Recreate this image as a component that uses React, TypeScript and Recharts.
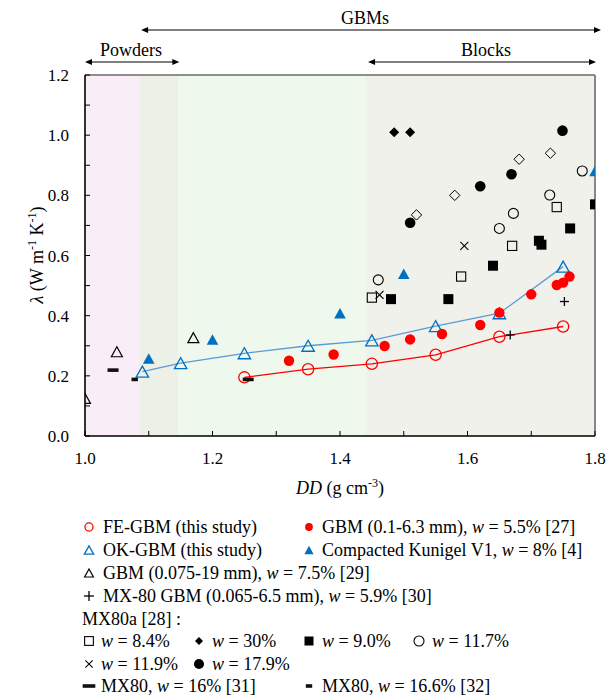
import React from 'react';
import { ScatterChart, Scatter, XAxis, YAxis, ReferenceArea, ReferenceLine } from 'recharts';

// ---------- data ----------
const xTicks = [1.0, 1.1, 1.2, 1.3, 1.4, 1.5, 1.6, 1.7, 1.8];
const yTicks = [0, 0.1, 0.2, 0.3, 0.4, 0.5, 0.6, 0.7, 0.8, 0.9, 1.0, 1.1, 1.2];

const feGbm = [
  { x: 1.25, y: 0.195 }, { x: 1.35, y: 0.222 }, { x: 1.45, y: 0.24 },
  { x: 1.55, y: 0.27 }, { x: 1.65, y: 0.33 }, { x: 1.75, y: 0.364 },
];
const okGbm = [
  { x: 1.09, y: 0.214 }, { x: 1.15, y: 0.242 }, { x: 1.25, y: 0.275 }, { x: 1.35, y: 0.3 },
  { x: 1.45, y: 0.318 }, { x: 1.55, y: 0.365 }, { x: 1.65, y: 0.408 }, { x: 1.75, y: 0.563 },
];
const gbm27 = [
  { x: 1.32, y: 0.25 }, { x: 1.39, y: 0.271 }, { x: 1.47, y: 0.299 }, { x: 1.51, y: 0.321 },
  { x: 1.56, y: 0.339 }, { x: 1.62, y: 0.369 }, { x: 1.65, y: 0.41 }, { x: 1.70, y: 0.471 },
  { x: 1.74, y: 0.502 }, { x: 1.75, y: 0.51 }, { x: 1.76, y: 0.53 },
];
const kunigel = [
  { x: 1.10, y: 0.258 }, { x: 1.20, y: 0.321 }, { x: 1.40, y: 0.408 }, { x: 1.50, y: 0.539 }, { x: 1.80, y: 0.881 },
];
const gbm29 = [{ x: 1.0, y: 0.125 }, { x: 1.05, y: 0.28 }, { x: 1.17, y: 0.327 }];
const mx80Gbm30 = [{ x: 1.667, y: 0.336 }, { x: 1.752, y: 0.447 }];
const mx80aW84 = [{ x: 1.45, y: 0.46 }, { x: 1.59, y: 0.53 }, { x: 1.67, y: 0.632 }, { x: 1.74, y: 0.761 }];
const mx80aW30 = [{ x: 1.485, y: 1.01 }, { x: 1.51, y: 1.01 }];
const mx80aW30open = [{ x: 1.52, y: 0.735 }, { x: 1.58, y: 0.8 }, { x: 1.681, y: 0.92 }, { x: 1.73, y: 0.94 }];
const mx80aW90 = [
  { x: 1.48, y: 0.455 }, { x: 1.57, y: 0.455 }, { x: 1.64, y: 0.566 }, { x: 1.712, y: 0.649 },
  { x: 1.716, y: 0.636 }, { x: 1.761, y: 0.69 }, { x: 1.80, y: 0.77 },
];
const mx80aW117 = [{ x: 1.46, y: 0.519 }, { x: 1.65, y: 0.69 }, { x: 1.672, y: 0.74 }, { x: 1.729, y: 0.801 }, { x: 1.78, y: 0.881 }];
const mx80aW119 = [{ x: 1.462, y: 0.469 }, { x: 1.595, y: 0.632 }];
const mx80aW179 = [{ x: 1.51, y: 0.709 }, { x: 1.62, y: 0.83 }, { x: 1.669, y: 0.87 }, { x: 1.749, y: 1.015 }];
const mx80W16 = [{ x: 1.044, y: 0.219 }, { x: 1.256, y: 0.188 }];
const mx80W166 = [{ x: 1.078, y: 0.188 }];

const bands = [
  { x1: 1.0, x2: 1.085, fill: '#f9edf8' },
  { x1: 1.085, x2: 1.146, fill: '#edf0e6' },
  { x1: 1.146, x2: 1.44, fill: '#eef8ec' },
  { x1: 1.44, x2: 1.8, fill: '#f0f1eb' },
];

// ---------- layout ----------
const W = 616, H = 697;
const PL = 85, PR = 595, PT = 75, PB = 436;
const YAW = 40, XAH = 30;
const FONT = '"Liberation Serif", "Times New Roman", serif';
const RED = '#ff0000';
const BLUE = '#0070c0';
const LBLUE = '#5b9bd5';
const xPx = (v: number) => PL + ((v - 1.0) / 0.8) * (PR - PL);

type MK = string;
function Marker({ kind, cx, cy, s = 1 }: { kind: MK; cx: number; cy: number; s?: number }) {
  if (cx == null || cy == null) return null;
  switch (kind) {
    case 'openCircleRed':
      return <circle cx={cx} cy={cy} r={5.6 * s} fill="none" stroke={RED} strokeWidth={1.3} />;
    case 'filledCircleRed':
      return <circle cx={cx} cy={cy} r={5.2 * s} fill={RED} />;
    case 'openTriBlue': {
      const w = 6.2 * s, h = 11 * s;
      return <polygon points={`${cx},${cy - h / 2} ${cx - w},${cy + h / 2} ${cx + w},${cy + h / 2}`} fill="none" stroke={BLUE} strokeWidth={1.3} />;
    }
    case 'filledTriBlue': {
      const w = 5.8 * s, h = 10.5 * s;
      return <polygon points={`${cx},${cy - h / 2} ${cx - w},${cy + h / 2} ${cx + w},${cy + h / 2}`} fill={BLUE} />;
    }
    case 'openTriBlack': {
      const w = 5.5 * s, h = 10 * s;
      return <polygon points={`${cx},${cy - h / 2} ${cx - w},${cy + h / 2} ${cx + w},${cy + h / 2}`} fill="none" stroke="#000" strokeWidth={1.2} />;
    }
    case 'plus': {
      const a = 4.5 * s;
      return <g stroke="#000" strokeWidth={1.3}><line x1={cx - a} x2={cx + a} y1={cy} y2={cy} /><line x1={cx} x2={cx} y1={cy - a} y2={cy + a} /></g>;
    }
    case 'openSquare': {
      const a = 4.6 * s;
      return <rect x={cx - a} y={cy - a} width={2 * a} height={2 * a} fill="none" stroke="#000" strokeWidth={1.1} />;
    }
    case 'filledSquare': {
      const a = 5 * s;
      return <rect x={cx - a} y={cy - a} width={2 * a} height={2 * a} fill="#000" />;
    }
    case 'openCircleBlack':
      return <circle cx={cx} cy={cy} r={5 * s} fill="none" stroke="#000" strokeWidth={1.1} />;
    case 'filledCircleBlack':
      return <circle cx={cx} cy={cy} r={5.3 * s} fill="#000" />;
    case 'xMark': {
      const a = 4 * s;
      return <g stroke="#000" strokeWidth={1.1}><line x1={cx - a} x2={cx + a} y1={cy - a} y2={cy + a} /><line x1={cx - a} x2={cx + a} y1={cy + a} y2={cy - a} /></g>;
    }
    case 'filledDiamond': {
      const a = 5 * s;
      return <polygon points={`${cx},${cy - a} ${cx + a},${cy} ${cx},${cy + a} ${cx - a},${cy}`} fill="#000" />;
    }
    case 'openDiamond': {
      const a = 5.2 * s;
      return <polygon points={`${cx},${cy - a} ${cx + a},${cy} ${cx},${cy + a} ${cx - a},${cy}`} fill="none" stroke="#000" strokeWidth={1} />;
    }
    case 'longDash': {
      const a = 5.5 * s;
      return <rect x={cx - a} y={cy - 1.8} width={2 * a} height={3.6} fill="#111" />;
    }
    case 'shortDash': {
      const a = 3.2 * s;
      return <rect x={cx - a} y={cy - 1.8} width={2 * a} height={3.6} fill="#111" />;
    }
    default:
      return null;
  }
}

const shapeOf = (kind: MK) => (p: any) => <Marker kind={kind} cx={p.cx} cy={p.cy} />;

const tickTextStyle: React.CSSProperties = { fontFamily: FONT, fontSize: 17, fill: '#000' };

const XTick = (props: any) => {
  const { x, payload } = props;
  const v = payload.value as number;
  const show = Math.round(v * 10) % 2 === 0;
  return (
    <g>
      <line x1={x} x2={x} y1={PB} y2={PB - 5} stroke="#000" strokeWidth={1} />
      {show && (
        <text x={x} y={PB + 28} textAnchor="middle" style={tickTextStyle}>
          {v.toFixed(1)}
        </text>
      )}
    </g>
  );
};

const YTick = (props: any) => {
  const { y, payload } = props;
  const v = payload.value as number;
  const show = Math.round(v * 10) % 2 === 0;
  return (
    <g>
      <line x1={PL} x2={PL + 5} y1={y} y2={y} stroke="#000" strokeWidth={1} />
      {show && (
        <text x={PL - 16} y={y + 6} textAnchor="end" style={tickTextStyle}>
          {v.toFixed(1)}
        </text>
      )}
    </g>
  );
};

type Part = [string, boolean?];
const W_ = (s: string): Part[] => [[s.split('|')[0]], ['w', true], [s.split('|')[1]]];

const legendRows: { y: number; items: { m: MK; mx: number; tx: number; parts: Part[]; s?: number }[] }[] = [
  { y: 527, items: [
    { m: 'openCircleRed', mx: 89, tx: 103, parts: [['FE-GBM (this study)']], s: 0.72 },
    { m: 'filledCircleRed', mx: 309, tx: 322, parts: W_('GBM (0.1-6.3 mm), | = 5.5% [27]'), s: 0.75 },
  ] },
  { y: 550, items: [
    { m: 'openTriBlue', mx: 89, tx: 103, parts: [['OK-GBM (this study)']], s: 0.75 },
    { m: 'filledTriBlue', mx: 309, tx: 322, parts: W_('Compacted Kunigel V1, | = 8% [4]'), s: 0.8 },
  ] },
  { y: 573, items: [
    { m: 'openTriBlack', mx: 89, tx: 103, parts: W_('GBM (0.075-19 mm), | = 7.5% [29]'), s: 0.8 },
  ] },
  { y: 596, items: [
    { m: 'plus', mx: 89, tx: 103, parts: W_('MX-80 GBM (0.065-6.5 mm), | = 5.9% [30]'), s: 1.1 },
  ] },
  { y: 641, items: [
    { m: 'openSquare', mx: 89, tx: 101, parts: W_('| = 8.4%'), s: 0.95 },
    { m: 'filledDiamond', mx: 199, tx: 212, parts: W_('| = 30%'), s: 0.8 },
    { m: 'filledSquare', mx: 309, tx: 322, parts: W_('| = 9.0%'), s: 0.9 },
    { m: 'openCircleBlack', mx: 419, tx: 432, parts: W_('| = 11.7%'), s: 1 },
  ] },
  { y: 664, items: [
    { m: 'xMark', mx: 89, tx: 101, parts: W_('| = 11.9%'), s: 0.9 },
    { m: 'filledCircleBlack', mx: 199, tx: 212, parts: W_('| = 17.9%'), s: 0.95 },
  ] },
  { y: 686, items: [
    { m: 'longDash', mx: 89, tx: 101, parts: W_('MX80, | = 16% [31]'), s: 1.15 },
    { m: 'shortDash', mx: 309, tx: 322, parts: W_('MX80, | = 16.6% [32]'), s: 1 },
  ] },
];

const Arrow = ({ x1, x2, y }: { x1: number; x2: number; y: number }) => (
  <g>
    <line x1={x1 + 3} x2={x2 - 3} y1={y} y2={y} stroke="#000" strokeWidth={1.1} />
    <polygon points={`${x1},${y} ${x1 + 7},${y - 3} ${x1 + 7},${y + 3}`} fill="#000" />
    <polygon points={`${x2},${y} ${x2 - 7},${y - 3} ${x2 - 7},${y + 3}`} fill="#000" />
  </g>
);

const Overlay = () => (
  <svg width={W} height={H} style={{ position: 'absolute', left: 0, top: 0, pointerEvents: 'none', fontFamily: FONT }}>
    {/* region annotations */}
    <text x={365} y={24} textAnchor="middle" fontSize={18}>GBMs</text>
    <Arrow x1={xPx(1.088)} x2={601} y={30} />
    <text x={131} y={56} textAnchor="middle" fontSize={18}>Powders</text>
    <Arrow x1={xPx(1.0)} x2={xPx(1.148)} y={62} />
    <text x={486} y={56} textAnchor="middle" fontSize={18}>Blocks</text>
    <Arrow x1={xPx(1.444)} x2={xPx(1.8) + 1} y={62} />

    {/* axis titles */}
    <text x={340} y={494} textAnchor="middle" fontSize={18}>
      <tspan fontStyle="italic">DD</tspan>
      <tspan> (g cm</tspan>
      <tspan fontSize={12} dy={-7}>-3</tspan>
      <tspan dy={7}>)</tspan>
    </text>
    <text transform="translate(43,255) rotate(-90)" textAnchor="middle" fontSize={18}>
      <tspan fontStyle="italic">λ</tspan>
      <tspan> (W m</tspan>
      <tspan fontSize={12} dy={-7}>-1</tspan>
      <tspan dy={7}> K</tspan>
      <tspan fontSize={12} dy={-7}>-1</tspan>
      <tspan dy={7}>)</tspan>
    </text>

    {/* legend */}
    {legendRows.map((row, ri) => (
      <g key={ri}>
        {row.items.map((it, ii) => (
          <g key={ii}>
            <Marker kind={it.m} cx={it.mx} cy={row.y} s={it.s ?? 0.8} />
            <text x={it.tx} y={row.y + 6} fontSize={18}>
              {it.parts.map((p, pi) => (
                <tspan key={pi} fontStyle={p[1] ? 'italic' : 'normal'}>{p[0]}</tspan>
              ))}
            </text>
          </g>
        ))}
      </g>
    ))}
    <text x={82} y={625} fontSize={18}>MX80a [28] :</text>
  </svg>
);

export default function App() {
  return (
    <div style={{ position: 'absolute', left: 0, top: 0, width: W, height: H, background: '#fff', fontFamily: FONT }}>
      <ScatterChart
        width={W}
        height={H}
        margin={{ top: PT, right: W - PR, bottom: H - PB - XAH, left: PL - YAW }}
        style={{ fontFamily: FONT }}
      >
        {bands.map((b, i) => (
          <ReferenceArea key={i} x1={b.x1} x2={b.x2} y1={0} y2={1.2} fill={b.fill} fillOpacity={1} stroke="none" ifOverflow="visible" />
        ))}
        <ReferenceLine y={1.2} stroke="#6b6b6b" strokeWidth={1.6} />
        <ReferenceLine x={1.8} stroke="#6b6b6b" strokeWidth={1.6} />
        <XAxis
          type="number"
          dataKey="x"
          domain={[1.0, 1.8]}
          ticks={xTicks}
          allowDataOverflow
          height={XAH}
          axisLine={{ stroke: '#000', strokeWidth: 1.6 }}
          tickLine={false}
          tick={<XTick />}
          interval={0}
        />
        <YAxis
          type="number"
          dataKey="y"
          domain={[0, 1.2]}
          ticks={yTicks}
          allowDataOverflow
          width={YAW}
          axisLine={{ stroke: '#000', strokeWidth: 1.6 }}
          tickLine={false}
          tick={<YTick />}
          interval={0}
        />
        <Scatter data={feGbm} line={{ stroke: RED, strokeWidth: 1.3 }} lineType="joint" shape={shapeOf('openCircleRed')} isAnimationActive={false} />
        <Scatter data={okGbm} line={{ stroke: LBLUE, strokeWidth: 1.3 }} lineType="joint" shape={shapeOf('openTriBlue')} isAnimationActive={false} />
        <Scatter data={gbm27} shape={shapeOf('filledCircleRed')} isAnimationActive={false} />
        <Scatter data={kunigel} shape={shapeOf('filledTriBlue')} isAnimationActive={false} />
        <Scatter data={gbm29} shape={shapeOf('openTriBlack')} isAnimationActive={false} />
        <Scatter data={mx80Gbm30} shape={shapeOf('plus')} isAnimationActive={false} />
        <Scatter data={mx80aW84} shape={shapeOf('openSquare')} isAnimationActive={false} />
        <Scatter data={mx80aW30} shape={shapeOf('filledDiamond')} isAnimationActive={false} />
        <Scatter data={mx80aW30open} shape={shapeOf('openDiamond')} isAnimationActive={false} />
        <Scatter data={mx80aW90} shape={shapeOf('filledSquare')} isAnimationActive={false} />
        <Scatter data={mx80aW117} shape={shapeOf('openCircleBlack')} isAnimationActive={false} />
        <Scatter data={mx80aW119} shape={shapeOf('xMark')} isAnimationActive={false} />
        <Scatter data={mx80aW179} shape={shapeOf('filledCircleBlack')} isAnimationActive={false} />
        <Scatter data={mx80W16} shape={shapeOf('longDash')} isAnimationActive={false} />
        <Scatter data={mx80W166} shape={shapeOf('shortDash')} isAnimationActive={false} />
      </ScatterChart>
      <Overlay />
    </div>
  );
}
